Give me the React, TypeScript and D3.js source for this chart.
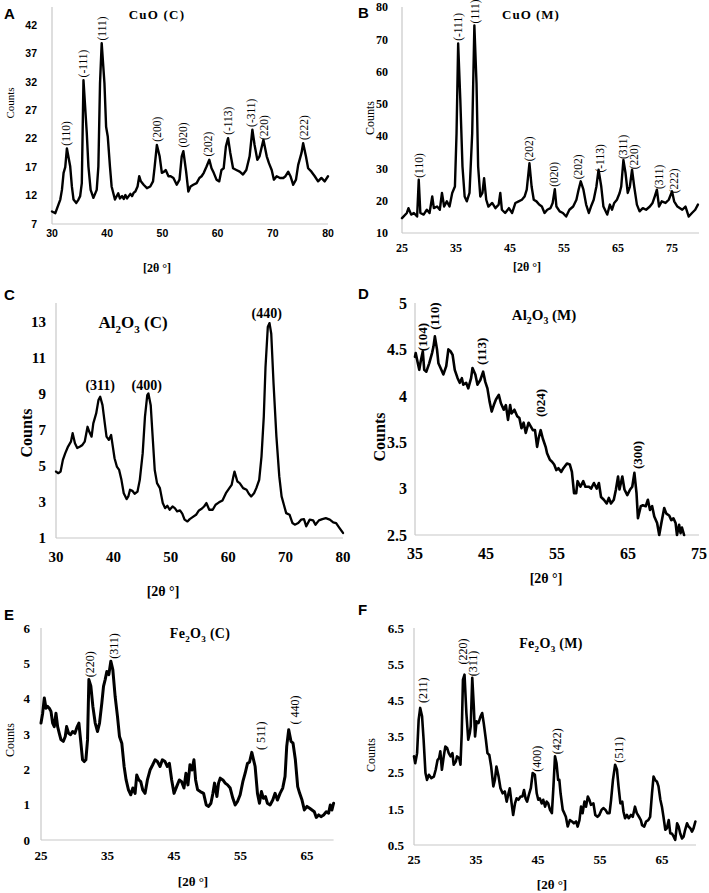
import React from "react";
import * as d3 from "d3";

type Pt = [number, number];
type Lab = [string, number, number];

// ---------- DATA ----------
const cuoC: Pt[] = [[30.0,9.2],[30.6,8.9],[31.5,11.3],[31.8,13.0],[32.1,16.0],[32.4,17],[32.7,20.3],[33.3,17.1],[33.6,13.6],[33.9,11.3],[34.4,10.7],[34.8,11.3],[35.1,11.9],[35.4,14.2],[35.7,32.3],[36.3,23.0],[36.6,17.1],[37.0,13.0],[37.5,11.6],[38.1,13.0],[38.4,17.1],[38.7,31.8],[39.0,38.8],[39.5,31.8],[39.8,24.1],[40.1,22.4],[40.5,17.1],[40.8,13.6],[41.4,11.3],[42.0,12.4],[42.3,11.5],[42.7,11.9],[43.0,11.4],[43.3,12.1],[43.6,11.5],[43.9,11.9],[44.2,12.3],[44.5,11.9],[44.8,12.5],[45.1,12.7],[45.5,13.6],[45.8,15.4],[46.1,14.5],[46.6,13.9],[47.2,13.3],[47.8,13.6],[48.3,14.5],[48.6,17.1],[49.0,20.9],[49.5,18.9],[49.9,16.0],[50.3,16.2],[50.6,16.5],[51.1,15.4],[51.5,15.4],[52.0,15.1],[52.6,13.9],[53.1,14.8],[53.5,18.9],[53.8,19.8],[54.3,16.2],[54.7,12.7],[55.1,13.6],[55.6,13.9],[56.2,14.2],[56.7,15.1],[57.1,15.4],[57.5,16.0],[58.0,17.1],[58.5,18.3],[58.9,16.8],[59.3,16.0],[59.8,14.8],[60.3,14.5],[60.7,16.5],[61.1,16.8],[61.5,20.6],[61.9,22.1],[62.3,19.5],[62.8,16.8],[63.4,16.5],[64.0,16.2],[64.6,15.7],[65.2,16.5],[65.8,18.9],[66.3,23.6],[66.7,20.9],[67.2,18.3],[67.6,18.9],[68.3,21.8],[68.9,18.9],[69.3,17.7],[69.8,16.5],[70.2,14.8],[70.7,15.4],[71.3,15.1],[71.9,15.1],[72.3,15.4],[72.8,16.2],[73.2,15.4],[73.7,13.9],[74.2,14.8],[74.6,17.4],[75.2,19.5],[75.5,21.2],[76.0,18.9],[76.4,16.8],[77.0,16.2],[77.6,15.4],[78.2,14.5],[78.8,15.1],[79.4,14.5],[80.0,15.4]];

const cuoM: Pt[] = [[25.0,14.6],[25.9,16.2],[26.2,17.7],[26.7,15.7],[27.2,16.2],[27.8,15.1],[28.1,26.5],[28.4,16.2],[29.0,15.7],[29.6,17.2],[30.1,16.2],[30.6,21.3],[30.9,17.7],[31.5,18.2],[32.0,17.2],[32.4,22.4],[32.8,18.2],[33.3,19.8],[33.8,18.2],[34.3,22.4],[34.8,24.4],[35.1,40.9],[35.4,68.7],[35.8,51.2],[36.2,30.6],[36.6,21.3],[37.0,19.8],[37.5,22.4],[38.0,40.9],[38.4,74.3],[38.8,56.3],[39.1,30.6],[39.5,21.3],[39.9,22.4],[40.2,27.0],[40.6,20.3],[41.0,18.2],[41.7,19.3],[42.3,17.7],[42.9,18.8],[43.2,22.4],[43.5,17.2],[44.1,16.2],[44.8,17.7],[45.4,16.2],[46.0,19.3],[46.6,19.8],[47.2,20.3],[47.7,21.3],[48.1,23.4],[48.6,31.6],[49.0,24.4],[49.4,20.3],[49.9,19.8],[50.4,18.8],[50.9,18.2],[51.4,16.2],[51.9,17.2],[52.5,17.7],[52.9,19.3],[53.3,23.6],[53.6,18.2],[54.2,16.7],[54.8,16.2],[55.4,15.1],[56.0,17.2],[56.7,18.2],[57.3,20.3],[57.7,23.4],[58.1,26.0],[58.6,23.4],[59.1,18.8],[59.6,16.2],[60.0,18.2],[60.5,20.3],[61.0,24.4],[61.4,29.6],[61.9,24.4],[62.3,18.2],[63.0,15.7],[63.5,18.8],[63.9,17.2],[64.3,19.3],[64.8,20.3],[65.3,22.4],[65.6,24.4],[66.0,32.6],[66.4,28.5],[66.8,22.4],[67.2,24.4],[67.6,29.6],[68.0,24.4],[68.5,18.8],[69.0,16.7],[69.6,17.7],[70.2,17.2],[70.9,18.2],[71.4,19.3],[71.8,21.3],[72.2,23.4],[72.6,18.2],[73.1,19.8],[73.8,19.3],[74.4,20.3],[75.0,22.9],[75.4,19.8],[76.0,18.2],[76.9,17.2],[77.5,18.2],[78.1,15.1],[78.7,16.2],[79.3,17.2],[79.8,18.8]];

const al2o3C: Pt[] = [[30.0,4.69],[30.4,4.6],[30.8,4.69],[31.2,5.34],[31.6,5.7],[32.1,6.08],[32.6,6.35],[32.9,6.82],[33.3,6.26],[33.7,6.0],[34.2,6.08],[34.6,6.17],[35.0,6.35],[35.5,7.18],[35.8,6.9],[36.2,6.63],[36.5,7.37],[37.0,7.92],[37.4,8.66],[37.7,8.85],[38.1,8.38],[38.5,7.37],[38.8,6.63],[39.2,6.45],[39.6,6.72],[39.9,6.08],[40.2,5.43],[40.6,4.97],[41.0,4.78],[41.4,4.23],[41.8,3.49],[42.3,3.16],[42.6,3.31],[42.9,3.68],[43.3,3.62],[43.7,3.46],[44.2,3.58],[44.6,4.23],[45.1,5.7],[45.5,7.74],[45.9,8.94],[46.1,9.03],[46.5,8.38],[46.8,6.82],[47.2,4.78],[47.6,4.05],[48.1,3.77],[48.6,2.94],[49.0,2.66],[49.4,2.79],[49.8,2.57],[50.3,2.75],[50.7,2.66],[51.1,2.48],[51.6,2.53],[52.0,2.35],[52.4,2.02],[52.9,1.92],[53.3,2.05],[53.8,2.16],[54.4,2.29],[54.9,2.53],[55.3,2.61],[55.8,2.75],[56.2,2.94],[56.7,2.57],[57.3,2.57],[57.8,2.85],[58.4,2.98],[59.0,3.09],[59.6,3.49],[60.2,3.77],[60.6,3.95],[60.9,4.42],[61.1,4.69],[61.6,4.14],[62.0,4.05],[62.6,3.77],[63.2,3.68],[63.6,3.46],[64.0,3.31],[64.5,3.49],[64.9,3.77],[65.4,4.23],[65.8,5.52],[66.2,7.74],[66.5,10.5],[66.9,12.72],[67.2,12.94],[67.5,12.35],[67.9,9.58],[68.4,6.63],[68.9,4.42],[69.3,3.31],[69.7,2.85],[70.1,2.38],[70.7,2.29],[71.2,1.83],[71.6,1.74],[72.2,1.83],[72.7,2.02],[73.2,2.05],[73.6,1.65],[74.2,2.02],[74.8,1.98],[75.2,1.74],[75.8,1.98],[76.4,2.05],[77.0,2.1],[77.7,2.02],[78.3,1.87],[78.8,1.83],[79.4,1.55],[80.0,1.28]];

const al2o3M: Pt[] = [[35.0,4.42],[35.1,4.46],[35.4,4.35],[35.6,4.28],[35.8,4.37],[36.1,4.48],[36.3,4.28],[36.6,4.26],[37.0,4.35],[37.4,4.46],[37.6,4.53],[37.8,4.64],[38.1,4.5],[38.3,4.35],[38.6,4.3],[39.0,4.23],[39.4,4.32],[39.7,4.5],[40.0,4.48],[40.3,4.44],[40.6,4.28],[41.0,4.19],[41.3,4.14],[41.6,4.19],[41.8,4.12],[42.2,4.14],[42.5,4.08],[42.9,4.19],[43.1,4.3],[43.5,4.23],[43.8,4.12],[44.2,4.17],[44.6,4.26],[44.9,4.15],[45.2,4.08],[45.5,3.94],[45.8,3.83],[46.1,3.9],[46.4,3.96],[46.8,4.01],[47.1,3.92],[47.5,3.85],[47.8,3.9],[48.1,3.74],[48.4,3.9],[48.6,3.81],[49.0,3.85],[49.4,3.78],[49.7,3.76],[50.0,3.65],[50.3,3.71],[50.6,3.6],[51.0,3.71],[51.3,3.67],[51.6,3.63],[51.9,3.63],[52.2,3.45],[52.4,3.54],[52.7,3.63],[53.0,3.54],[53.4,3.45],[53.6,3.38],[54.0,3.31],[54.3,3.29],[54.6,3.26],[54.9,3.2],[55.2,3.22],[55.6,3.18],[55.9,3.22],[56.4,3.27],[56.8,3.26],[57.1,3.18],[57.4,2.95],[57.7,2.95],[57.9,3.08],[58.3,3.02],[58.7,3.08],[59.0,3.02],[59.5,3.02],[59.8,3.0],[60.2,3.06],[60.6,3.0],[60.9,3.06],[61.2,2.91],[61.6,2.88],[62.0,2.84],[62.3,2.9],[62.6,2.84],[63.0,2.88],[63.3,2.99],[63.6,3.13],[63.8,2.99],[64.2,3.13],[64.5,2.99],[64.9,2.93],[65.3,2.99],[65.6,3.02],[65.9,3.17],[66.2,2.95],[66.4,2.68],[66.8,2.81],[67.1,2.82],[67.5,2.81],[67.8,2.88],[68.1,2.77],[68.4,2.81],[68.7,2.7],[69.1,2.63],[69.4,2.5],[69.7,2.63],[70.1,2.79],[70.4,2.73],[70.8,2.71],[71.1,2.66],[71.4,2.68],[71.7,2.63],[71.9,2.5],[72.2,2.61],[72.4,2.52],[72.6,2.58],[72.9,2.5]];

const fe2o3C: Pt[] = [[25.0,3.31],[25.25,3.59],[25.5,4.02],[25.75,3.73],[26.0,3.78],[26.25,3.73],[26.5,3.64],[26.75,3.31],[27.0,3.21],[27.25,3.59],[27.5,3.21],[27.75,3.02],[28.0,2.84],[28.35,2.79],[28.65,2.93],[28.85,3.21],[29.15,3.02],[29.45,2.98],[29.75,3.07],[30.1,3.02],[30.45,3.21],[30.7,3.31],[30.95,2.84],[31.25,2.27],[31.5,2.22],[31.75,2.27],[32.0,2.84],[32.2,4.54],[32.5,4.35],[32.8,3.78],[33.15,3.31],[33.5,3.07],[33.8,3.31],[34.15,3.88],[34.4,4.35],[34.65,4.54],[34.9,4.77],[35.2,4.68],[35.5,5.06],[35.8,4.82],[36.15,4.06],[36.5,3.5],[36.8,2.93],[37.15,2.74],[37.5,2.08],[37.8,1.7],[38.15,1.42],[38.5,1.28],[38.8,1.47],[39.15,1.32],[39.4,1.84],[39.7,1.7],[40.0,1.65],[40.3,1.42],[40.65,1.32],[41.0,1.7],[41.4,1.98],[41.8,2.13],[42.15,2.27],[42.5,2.22],[42.9,2.08],[43.25,2.27],[43.65,2.22],[44.0,2.08],[44.3,2.17],[44.65,1.7],[45.0,1.32],[45.4,1.51],[45.8,1.7],[46.15,1.65],[46.5,1.47],[46.8,1.89],[47.1,1.56],[47.4,2.13],[47.7,1.98],[48.0,2.27],[48.25,1.7],[48.55,1.42],[48.95,1.37],[49.45,1.32],[49.85,0.99],[50.2,0.95],[50.55,1.04],[50.85,1.32],[51.1,1.61],[51.45,1.23],[51.7,1.61],[51.95,1.75],[52.35,1.7],[52.7,1.61],[53.05,1.56],[53.45,1.47],[53.85,1.18],[54.2,0.99],[54.55,1.09],[54.95,1.28],[55.35,1.65],[55.7,1.89],[56.05,2.17],[56.35,2.2],[56.7,2.48],[57.2,2.08],[57.55,1.32],[57.85,1.04],[58.15,1.37],[58.45,1.18],[58.75,1.23],[59.05,1.04],[59.45,0.99],[59.85,1.13],[60.2,1.32],[60.55,1.13],[60.95,1.32],[61.35,1.47],[61.7,1.8],[61.95,2.65],[62.25,3.12],[62.6,2.79],[62.9,2.74],[63.25,2.27],[63.6,1.51],[63.9,1.32],[64.25,1.13],[64.6,0.85],[65.0,0.95],[65.4,0.9],[65.75,0.85],[66.1,0.8],[66.4,0.64],[66.75,0.71],[67.1,0.66],[67.5,0.71],[67.9,0.8],[68.25,0.76],[68.5,0.99],[68.75,0.85],[69.0,1.04]];

const fe2o3M: Pt[] = [[25.0,2.95],[25.2,2.76],[25.5,3.04],[25.75,3.96],[26.0,4.29],[26.3,4.06],[26.55,3.41],[26.85,2.49],[27.1,2.3],[27.4,2.44],[27.8,2.35],[28.2,2.39],[28.5,2.58],[28.8,2.85],[29.05,2.9],[29.25,3.09],[29.5,2.58],[29.8,2.95],[30.05,3.22],[30.35,3.18],[30.6,3.04],[30.9,2.95],[31.2,3.04],[31.4,2.72],[31.75,2.81],[31.95,2.95],[32.3,2.9],[32.5,2.72],[32.7,3.59],[32.9,5.07],[33.15,5.21],[33.45,4.15],[33.75,3.41],[34.0,3.59],[34.15,3.78],[34.4,5.12],[34.65,4.33],[34.85,3.5],[35.1,3.92],[35.4,3.87],[35.75,4.06],[36.0,4.15],[36.25,3.87],[36.6,3.41],[36.85,3.04],[37.15,2.99],[37.45,2.67],[37.8,2.12],[38.05,2.3],[38.3,2.67],[38.65,2.39],[38.95,2.07],[39.3,1.93],[39.65,1.98],[39.95,1.7],[40.25,1.93],[40.45,2.07],[40.75,1.65],[41.0,1.33],[41.3,1.65],[41.55,1.79],[41.85,1.75],[42.2,1.84],[42.5,1.84],[42.75,2.02],[43.0,1.79],[43.25,1.7],[43.6,1.93],[43.85,2.07],[44.15,2.49],[44.5,2.44],[44.8,1.93],[45.05,1.75],[45.3,1.79],[45.6,1.65],[45.85,1.75],[46.15,1.56],[46.4,1.7],[46.65,1.65],[46.95,1.47],[47.25,1.38],[47.5,2.12],[47.75,2.95],[48.0,2.76],[48.25,2.3],[48.45,2.3],[48.65,1.93],[49.0,1.47],[49.25,1.38],[49.5,1.28],[49.8,1.01],[50.15,1.19],[50.5,1.15],[50.8,1.1],[51.15,1.15],[51.4,1.01],[51.7,1.19],[51.95,1.56],[52.2,1.38],[52.5,1.7],[52.75,1.56],[53.05,1.84],[53.3,1.75],[53.55,1.61],[53.95,1.65],[54.25,1.33],[54.6,1.28],[54.9,1.33],[55.25,1.47],[55.55,1.52],[55.9,1.47],[56.2,1.38],[56.55,1.38],[56.8,1.75],[57.1,2.3],[57.45,2.72],[57.75,2.58],[58.0,2.12],[58.3,1.65],[58.6,1.7],[58.8,1.42],[59.05,1.24],[59.35,1.33],[59.65,1.24],[60.0,1.33],[60.3,1.28],[60.65,1.56],[60.95,1.38],[61.3,1.28],[61.6,1.19],[61.8,1.05],[62.15,1.01],[62.45,1.15],[62.8,1.19],[63.1,1.28],[63.4,1.93],[63.65,2.39],[63.9,2.3],[64.2,2.25],[64.45,2.12],[64.75,1.75],[65.0,1.56],[65.25,1.28],[65.55,0.92],[65.8,0.96],[66.1,1.19],[66.35,0.82],[66.6,0.82],[66.9,0.73],[67.15,0.64],[67.45,1.1],[67.7,1.01],[67.95,0.82],[68.25,0.68],[68.5,0.73],[68.75,0.92],[69.05,1.1],[69.3,1.01],[69.6,0.96],[69.85,0.87],[70.1,0.96],[70.4,1.15]];

// peak labels: [text, 2θ, counts]
const cuoCLabels: Lab[] = [["(110)",32.6,20.6],["(-111)",35.7,32.6],["(111)",39.0,39.1],["(200)",49.0,21.3],["(020)",53.7,20.3],["(202)",58.3,18.7],["(-113)",61.9,22.5],["(-311)",66.1,23.9],["(220)",68.4,21.6],["(222)",75.6,21.6]];
const cuoMLabels: Lab[] = [["(110)",28.1,26.8],["(-111)",35.4,69.2],["(111)",38.6,74.6],["(202)",48.6,31.9],["(020)",53.1,24.0],["(202)",57.5,26.3],["(-113)",61.6,28.4],["(311)",66.0,32.6],["(220)",67.9,29.4],["(311)",72.5,23.3],["(222)",75.4,22.0]];
const al2o3CLabels: Lab[] = [["(311)",37.7,9.25],["(400)",45.8,9.25],["(440)",66.7,13.2]];
const al2o3MLabels: Lab[] = [["(104)",36.0,4.47],["(110)",37.8,4.7],["(113)",44.4,4.32],["(024)",52.6,3.76],["(300)",66.3,3.2]];
const fe2o3CLabels: Lab[] = [["(220)",32.3,4.58],["(311)",35.9,5.1],["( 511)",58.0,2.52],["( 440)",63.2,3.24]];
const fe2o3MLabels: Lab[] = [["(211)",26.45,4.4],["(220)",32.9,5.46],["(311)",34.55,5.14],["(400)",44.8,2.5],["(422)",48.1,2.98],["(511)",58.0,2.75]];

// ticks
const ticksAx = [30, 40, 50, 60, 70, 80];
const ticksAy = [7, 12, 17, 22, 27, 32, 37, 42];
const ticksBx = [25, 35, 45, 55, 65, 75];
const ticksBy = [10, 20, 30, 40, 50, 60, 70, 80];
const ticksCx = [30, 40, 50, 60, 70, 80];
const ticksCy = [1, 3, 5, 7, 9, 11, 13];
const ticksDx = [35, 45, 55, 65, 75];
const ticksDy = [2.5, 3, 3.5, 4, 4.5, 5];
const ticksEx = [25, 35, 45, 55, 65];
const ticksEy = [0, 1, 2, 3, 4, 5, 6];
const ticksFx = [25, 35, 45, 55, 65];
const ticksFy = [0.5, 1.5, 2.5, 3.5, 4.5, 5.5, 6.5];

// ---------- LAYOUT ----------
const SERIF = "'Liberation Serif', 'Times New Roman', serif";
const SANS = "'Liberation Sans', Arial, sans-serif";

type Seg = [string, boolean];
interface Cfg {
  letter: string; lx: number; ly: number;
  title: Seg[]; tx: number; ty: number; tSize: number; tSpace: number;
  data: Pt[]; labels: Lab[]; rotLabels: boolean; labSize: number; labBold: boolean;
  xd: [number, number]; yd: [number, number];
  xr: [number, number]; yr: [number, number]; yTop: number;
  xt: number[]; yt: number[];
  tickFont: string; tickSize: number; yGap: number; xLabY: number;
  cx: number; cy: number; cSize: number; cBold: boolean;
  axX: number; axY: number; axSize: number; axBold: boolean;
  lw: number;
}

const cfgs: Cfg[] = [
  { letter: "A", lx: 4, ly: 19, title: [["CuO (C)", false]], tx: 157, ty: 19, tSize: 13, tSpace: 1.2,
    data: cuoC, labels: cuoCLabels, rotLabels: true, labSize: 11.5, labBold: false,
    xd: [30, 80], yd: [7, 42], xr: [52, 328], yr: [224, 25], yTop: 7, xt: ticksAx, yt: ticksAy,
    tickFont: SANS, tickSize: 10.5, yGap: 15, xLabY: 237,
    cx: 10, cy: 103, cSize: 11, cBold: false, axX: 157, axY: 272, axSize: 12, axBold: true, lw: 2.4 },
  { letter: "B", lx: 358, ly: 18, title: [["CuO (M)", false]], tx: 531, ty: 19, tSize: 13, tSpace: 1.0,
    data: cuoM, labels: cuoMLabels, rotLabels: true, labSize: 11.5, labBold: false,
    xd: [25, 80], yd: [10, 80], xr: [402, 699], yr: [233, 7], yTop: 7, xt: ticksBx, yt: ticksBy,
    tickFont: SERIF, tickSize: 12, yGap: 14, xLabY: 252,
    cx: 370, cy: 118, cSize: 12, cBold: false, axX: 527, axY: 271, axSize: 12, axBold: true, lw: 2.4 },
  { letter: "C", lx: 4, ly: 300, title: [["Al", false], ["2", true], ["O", false], ["3", true], [" (C)", false]], tx: 133, ty: 328, tSize: 17, tSpace: 0,
    data: al2o3C, labels: al2o3CLabels, rotLabels: false, labSize: 14, labBold: true,
    xd: [30, 80], yd: [1, 13], xr: [56, 343], yr: [538, 322], yTop: 303, xt: ticksCx, yt: ticksCy,
    tickFont: SERIF, tickSize: 15, yGap: 10, xLabY: 562,
    cx: 26, cy: 433, cSize: 16, cBold: true, axX: 163, axY: 596, axSize: 14, axBold: true, lw: 2.3 },
  { letter: "D", lx: 358, ly: 299, title: [["Al", false], ["2", true], ["O", false], ["3", true], [" (M)", false]], tx: 544, ty: 320, tSize: 15, tSpace: 0,
    data: al2o3M, labels: al2o3MLabels, rotLabels: true, labSize: 13, labBold: true,
    xd: [35, 75], yd: [2.5, 5], xr: [415, 699], yr: [535, 303], yTop: 303, xt: ticksDx, yt: ticksDy,
    tickFont: SERIF, tickSize: 16, yGap: 8, xLabY: 559,
    cx: 379, cy: 437, cSize: 16, cBold: true, axX: 546, axY: 583, axSize: 14, axBold: true, lw: 2.6 },
  { letter: "E", lx: 4, ly: 620, title: [["Fe", false], ["2", true], ["O", false], ["3", true], [" (C)", false]], tx: 200, ty: 638, tSize: 14, tSpace: 0.3,
    data: fe2o3C, labels: fe2o3CLabels, rotLabels: true, labSize: 12, labBold: false,
    xd: [25, 69], yd: [0, 6], xr: [41, 333.6], yr: [840, 628], yTop: 628, xt: ticksEx, yt: ticksEy,
    tickFont: SERIF, tickSize: 13, yGap: 11, xLabY: 860,
    cx: 10, cy: 740, cSize: 12, cBold: false, axX: 193, axY: 886, axSize: 13, axBold: true, lw: 3 },
  { letter: "F", lx: 358, ly: 615, title: [["Fe", false], ["2", true], ["O", false], ["3", true], [" (M)", false]], tx: 551, ty: 648, tSize: 14, tSpace: 0.3,
    data: fe2o3M, labels: fe2o3MLabels, rotLabels: true, labSize: 12, labBold: false,
    xd: [25, 70.5], yd: [0.5, 6.5], xr: [414, 696], yr: [845, 628], yTop: 628, xt: ticksFx, yt: ticksFy,
    tickFont: SERIF, tickSize: 13, yGap: 10, xLabY: 864,
    cx: 371, cy: 755, cSize: 12, cBold: false, axX: 552, axY: 889, axSize: 13, axBold: true, lw: 2.6 },
];

function Title({ segs, x, y, size, space }: { segs: Seg[]; x: number; y: number; size: number; space: number }) {
  const shift = size * 0.28;
  let cur = 0;
  const parts: React.ReactNode[] = [];
  segs.forEach(([t, sub], i) => {
    const target = sub ? shift : 0;
    const dy = target - cur;
    cur = target;
    parts.push(
      <tspan key={i} dy={dy} fontSize={sub ? size * 0.65 : size}>{t}</tspan>
    );
  });
  return (
    <text x={x} y={y} textAnchor="middle" fontFamily={SERIF} fontWeight="bold" fontSize={size}
      letterSpacing={space} fill="#000">
      {parts}
    </text>
  );
}

function Panel({ c }: { c: Cfg }) {
  const x = d3.scaleLinear().domain(c.xd).range(c.xr);
  const y = d3.scaleLinear().domain(c.yd).range(c.yr);
  const line = d3.line<Pt>()
    .x((d) => x(d[0]))
    .y((d) => y(Math.max(c.yd[0], d[1])))
    .curve(d3.curveLinear);
  const x0 = c.xr[0];
  const y0 = c.yr[0];
  return (
    <g>
      <text x={c.lx} y={c.ly} fontFamily={SANS} fontWeight="bold" fontSize={15} fill="#000">{c.letter}</text>
      {/* axes */}
      <line x1={x0} x2={x0} y1={c.yTop} y2={y0} stroke="#c8c8c8" strokeWidth={1.2} />
      <line x1={x0} x2={c.xr[1]} y1={y0} y2={y0} stroke="#c8c8c8" strokeWidth={1.2} />
      {c.yt.map((t) => (
        <text key={"y" + t} x={x0 - c.yGap} y={y(t)} dy="0.36em" textAnchor="end"
          fontFamily={c.tickFont} fontWeight="bold" fontSize={c.tickSize} fill="#000">{String(t)}</text>
      ))}
      {c.xt.map((t) => (
        <text key={"x" + t} x={x(t)} y={c.xLabY} textAnchor="middle"
          fontFamily={c.tickFont} fontWeight="bold" fontSize={c.tickSize} fill="#000">{t}</text>
      ))}
      <path d={line(c.data) || ""} fill="none" stroke="#000" strokeWidth={c.lw} strokeLinejoin="round" strokeLinecap="round" />
      {c.labels.map(([t, lx, ly], i) =>
        c.rotLabels ? (
          <text key={"l" + i} transform={`translate(${x(lx)},${y(ly) - 1}) rotate(-90)`} dy="0.35em"
            fontFamily={SERIF} fontWeight={c.labBold ? "bold" : "normal"} fontSize={c.labSize} fill="#000">{t}</text>
        ) : (
          <text key={"l" + i} x={x(lx)} y={y(ly)} textAnchor="middle"
            fontFamily={SERIF} fontWeight={c.labBold ? "bold" : "normal"} fontSize={c.labSize} fill="#000">{t}</text>
        )
      )}
      <Title segs={c.title} x={c.tx} y={c.ty} size={c.tSize} space={c.tSpace} />
      <text transform={`translate(${c.cx},${c.cy}) rotate(-90)`} dy="0.35em" textAnchor="middle"
        fontFamily={SERIF} fontWeight={c.cBold ? "bold" : "normal"} fontSize={c.cSize} fill="#000">Counts</text>
      <text x={c.axX} y={c.axY} textAnchor="middle" fontFamily={SERIF}
        fontWeight={c.axBold ? "bold" : "normal"} fontSize={c.axSize} fill="#000">[2θ °]</text>
    </g>
  );
}

export default function App() {
  return (
    <svg width={709} height={893} viewBox="0 0 709 893"
      style={{ position: "absolute", left: 0, top: 0, background: "#fff" }}>
      <rect width={709} height={893} fill="#fff" />
      {cfgs.map((c) => <Panel key={c.letter} c={c} />)}
    </svg>
  );
}
